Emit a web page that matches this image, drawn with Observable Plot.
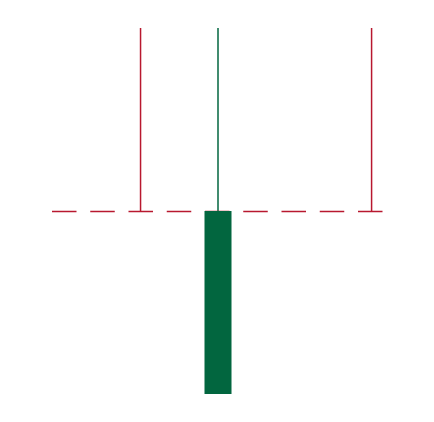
<!DOCTYPE html>
<html>
<head>
<meta charset="utf-8">
<script src="https://cdn.jsdelivr.net/npm/d3@7"></script>
<script src="https://cdn.jsdelivr.net/npm/@observablehq/plot@0.6"></script>
<style>
  html, body { margin: 0; padding: 0; background: #fff; }
</style>
</head>
<body>
<div id="chart"></div>
<script>
// Data
const redPositions = [26.6, 96.4];     // red vertical lines (x)
const greenPosition = [50];            // green vertical + bar (x)
const upperTop = 1;                    // top of vertical lines
const baseline = 0;                    // dashed reference line
const barBottom = -1;                  // bottom of the green bar

const red = "#b8182f";
const green = "#02663f";

const chart = Plot.plot({
  width: 434,
  height: 422,
  marginLeft: 52,
  marginRight: 51,
  marginTop: 28,
  marginBottom: 28,
  x: { domain: [0, 100], axis: null },
  y: { domain: [barBottom, upperTop], axis: null },
  marks: [
    Plot.ruleX(redPositions, { x: d => d, y1: baseline, y2: upperTop, stroke: red, strokeWidth: 1.5 }),
    Plot.ruleX(greenPosition, { x: d => d, y1: baseline, y2: upperTop, stroke: green, strokeWidth: 1.5 }),
    Plot.ruleY([baseline], { stroke: red, strokeWidth: 1.5, strokeDasharray: "24.5,13.75" }),
    Plot.ruleX(greenPosition, { x: d => d, y1: baseline, y2: barBottom, stroke: green, strokeWidth: 27 })
  ]
});
document.getElementById("chart").appendChild(chart);
</script>
</body>
</html>
